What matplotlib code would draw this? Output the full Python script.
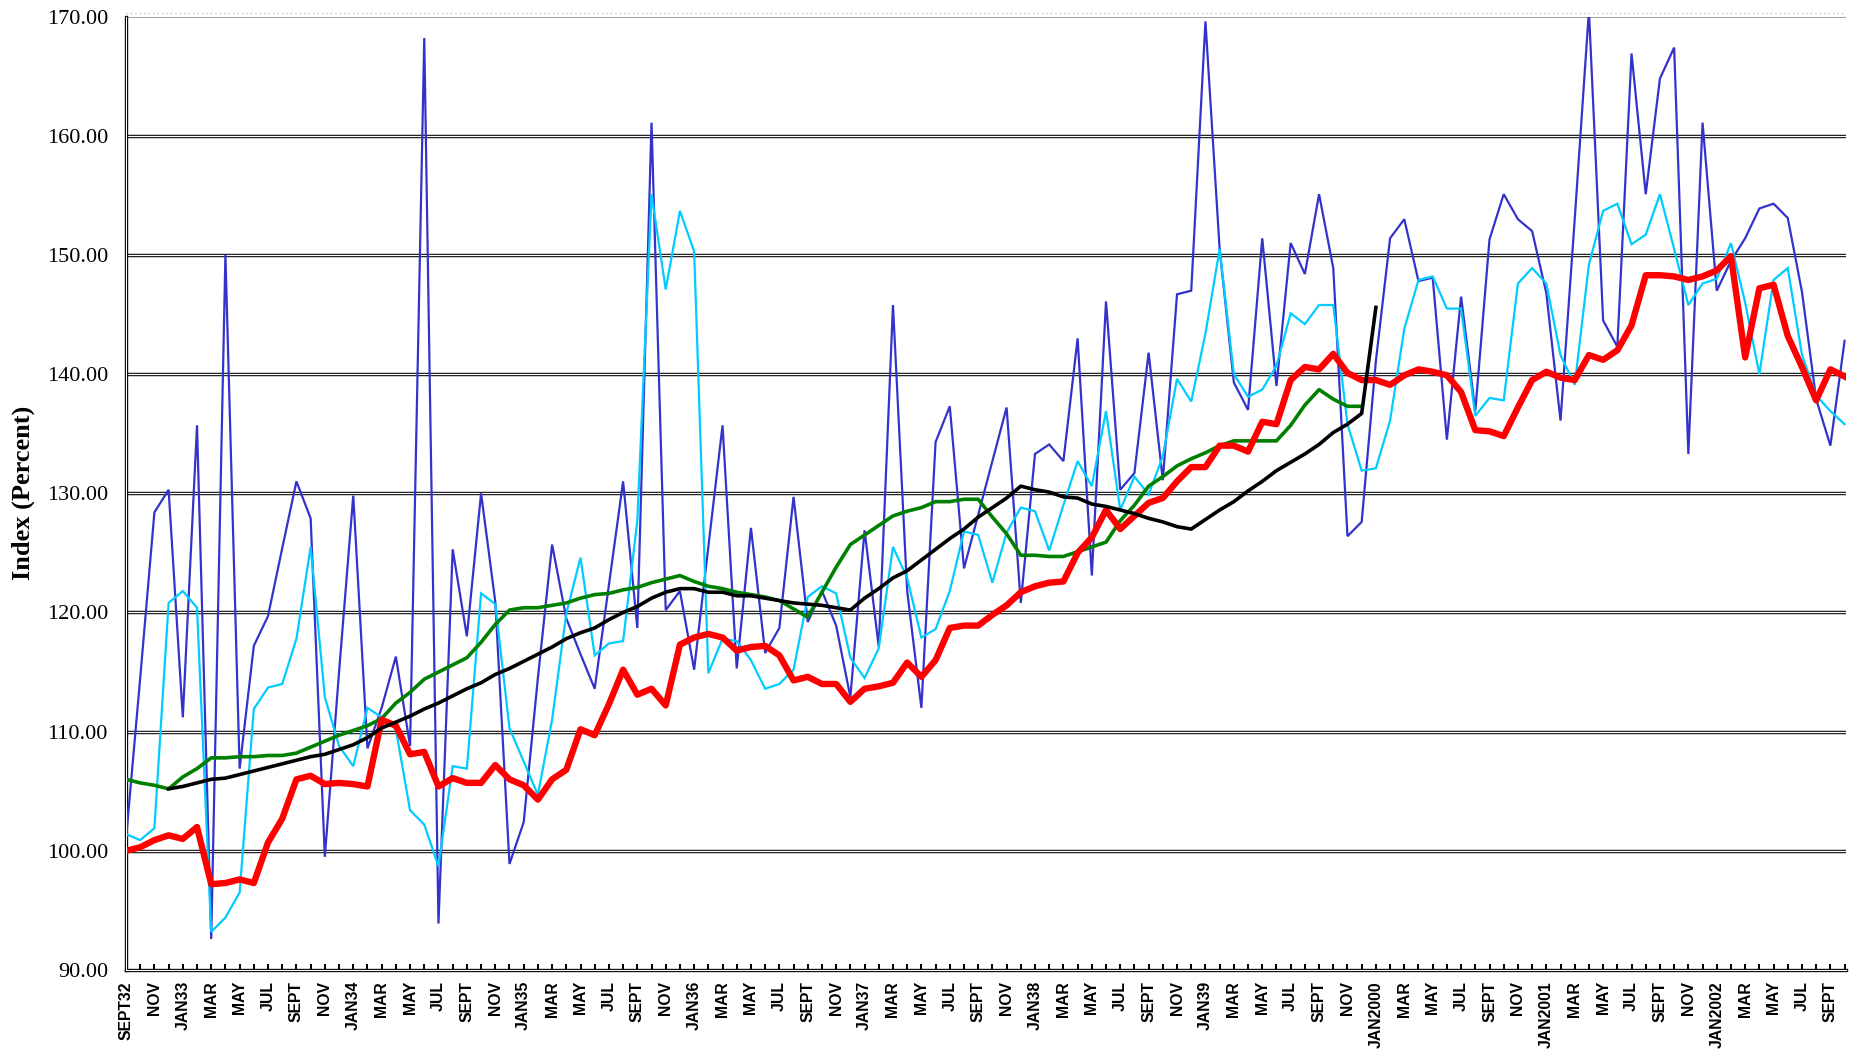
import numpy as np
import matplotlib
matplotlib.use("Agg")
import matplotlib.pyplot as plt

# ---------------- data (monthly, Sept 1932 .. Oct 1942) ----------------
tick_labels = ["SEPT32", "NOV", "JAN33", "MAR", "MAY", "JUL", "SEPT", "NOV",
               "JAN34", "MAR", "MAY", "JUL", "SEPT", "NOV",
               "JAN35", "MAR", "MAY", "JUL", "SEPT", "NOV",
               "JAN36", "MAR", "MAY", "JUL", "SEPT", "NOV",
               "JAN37", "MAR", "MAY", "JUL", "SEPT", "NOV",
               "JAN38", "MAR", "MAY", "JUL", "SEPT", "NOV",
               "JAN39", "MAR", "MAY", "JUL", "SEPT", "NOV",
               "JAN2000", "MAR", "MAY", "JUL", "SEPT", "NOV",
               "JAN2001", "MAR", "MAY", "JUL", "SEPT", "NOV",
               "JAN2002", "MAR", "MAY", "JUL", "SEPT"]

blue = [101.0, 114.5, 128.4, 130.3, 111.2, 135.7, 92.6, 150.0, 106.9, 117.2,
        119.7, 125.4, 131.0, 127.9, 99.5, 115.0, 129.8, 108.6, 112.0, 116.3,
        108.8, 168.2, 93.9, 125.3, 118.0, 130.0, 120.9, 98.9, 102.4, 114.5,
        125.7, 119.5, 116.5, 113.6, 122.3, 131.0, 118.7, 161.1, 120.2, 121.8,
        115.2, 125.5, 135.7, 115.3, 127.1, 116.6, 118.7, 129.7, 119.2, 121.8,
        118.9, 112.9, 126.9, 117.1, 145.8, 121.8, 112.0, 134.3, 137.3, 123.7,
        128.2, 132.7, 137.2, 120.8, 133.3, 134.1, 132.7, 143.0, 123.1, 146.1,
        130.3, 131.7, 141.8, 131.1, 146.7, 147.0, 169.6, 150.5, 139.3, 137.0,
        151.4, 139.0, 151.0, 148.4, 155.1, 148.9, 126.4, 127.6, 141.1, 151.4,
        153.0, 147.8, 148.1, 134.5, 146.5, 136.9, 151.3, 155.1, 153.0, 152.0,
        146.8, 136.1, 153.0, 170.5, 144.5, 142.3, 166.9, 155.1, 164.8, 167.4,
        133.3, 161.1, 147.0, 149.5, 151.4, 153.9, 154.3, 153.1, 146.9, 137.9,
        134.0, 142.8]

cyan = [101.4, 100.9, 101.9, 120.8, 121.8, 120.4, 93.2, 94.4, 96.5, 111.9,
        113.7, 114.0, 117.8, 125.5, 112.9, 108.8, 107.1, 112.0, 111.2, 110.2,
        103.4, 102.2, 98.7, 107.1, 106.9, 121.6, 120.7, 110.3, 107.5, 104.7,
        111.0, 119.9, 124.6, 116.4, 117.4, 117.6, 127.7, 155.1, 147.1, 153.7,
        150.3, 114.9, 117.8, 117.6, 116.0, 113.6, 114.0, 115.2, 121.3, 122.2,
        121.6, 116.2, 114.5, 117.0, 125.5, 122.9, 117.9, 118.6, 121.8, 126.8,
        126.5, 122.5, 126.7, 128.8, 128.5, 125.2, 129.0, 132.7, 130.6, 136.9,
        128.6, 131.4, 129.9, 133.1, 139.6, 137.7, 143.4, 150.5, 140.0, 138.1,
        138.7, 140.7, 145.1, 144.2, 145.8, 145.8, 135.8, 131.9, 132.1, 136.1,
        143.8, 147.9, 148.2, 145.5, 145.5, 136.5, 138.0, 137.8, 147.6, 148.9,
        147.6, 141.6, 139.1, 149.2, 153.7, 154.3, 150.9, 151.7, 155.1, 150.5,
        145.8, 147.6, 148.0, 151.0, 146.0, 140.0, 147.9, 148.9, 141.6, 138.2,
        136.9, 135.8]

red = [100.0, 100.3, 100.9, 101.3, 101.0, 102.0, 97.2, 97.3, 97.6, 97.3,
       100.7, 102.7, 106.0, 106.3, 105.6, 105.7, 105.6, 105.4, 111.0, 110.5,
       108.1, 108.3, 105.4, 106.1, 105.7, 105.7, 107.2, 106.0, 105.5, 104.3,
       106.0, 106.8, 110.2, 109.7, 112.3, 115.2, 113.1, 113.6, 112.2, 117.3,
       117.9, 118.2, 117.9, 116.8, 117.1, 117.2, 116.4, 114.3, 114.6, 114.0,
       114.0, 112.5, 113.6, 113.8, 114.1, 115.8, 114.6, 116.0, 118.7, 118.9,
       118.9, 119.8, 120.6, 121.7, 122.2, 122.5, 122.6, 125.0, 126.3, 128.6,
       127.0, 128.1, 129.2, 129.6, 131.0, 132.2, 132.2, 134.0, 134.0, 133.5,
       136.0, 135.8, 139.5, 140.6, 140.4, 141.7, 140.1, 139.5, 139.5, 139.1,
       139.9, 140.4, 140.2, 139.9, 138.5, 135.3, 135.2, 134.8, 137.2, 139.5,
       140.2, 139.7, 139.5, 141.6, 141.2, 142.0, 144.1, 148.3, 148.3, 148.2,
       147.9, 148.2, 148.7, 149.9, 141.4, 147.2, 147.5, 143.2, 140.6, 137.8,
       140.4, 139.8]

# green series: Sept 1932 .. Dec 1939
green = [106.0, 105.7, 105.5, 105.2, 106.2, 106.9, 107.8, 107.8, 107.9, 107.9,
         108.0, 108.0, 108.2, 108.7, 109.2, 109.7, 110.1, 110.5, 111.1, 112.4,
         113.3, 114.4, 115.0, 115.6, 116.2, 117.5, 119.0, 120.2, 120.4, 120.4,
         120.6, 120.8, 121.2, 121.5, 121.6, 121.9, 122.1, 122.5, 122.8, 123.1,
         122.6, 122.2, 122.0, 121.7, 121.5, 121.3, 121.0, 120.3, 119.6, 121.7,
         123.8, 125.7, 126.5, 127.3, 128.1, 128.5, 128.8, 129.3, 129.3, 129.5,
         129.5, 128.0, 126.6, 124.8, 124.8, 124.7, 124.7, 125.1, 125.5, 125.9,
         127.7, 129.0, 130.6, 131.4, 132.3, 132.9, 133.4, 134.0, 134.4, 134.4,
         134.4, 134.4, 135.7, 137.4, 138.7, 137.9, 137.3, 137.3]

# black series: Dec 1932 .. Jan 1940
black_start = 3
black = [105.2, 105.4, 105.7, 106.0, 106.1, 106.4, 106.7, 107.0, 107.3, 107.6,
         107.9, 108.1, 108.5, 108.9, 109.5, 110.3, 110.8, 111.3, 111.9, 112.4,
         113.0, 113.6, 114.1, 114.8, 115.3, 115.9, 116.5, 117.1, 117.8, 118.3,
         118.7, 119.4, 120.0, 120.5, 121.2, 121.7, 122.0, 122.0, 121.7, 121.7,
         121.4, 121.4, 121.2, 121.0, 120.8, 120.7, 120.6, 120.4, 120.2, 121.2,
         122.0, 122.9, 123.5, 124.4, 125.3, 126.2, 127.0, 128.0, 128.8, 129.6,
         130.6, 130.3, 130.1, 129.7, 129.6, 129.1, 128.9, 128.6, 128.3, 127.9,
         127.6, 127.2, 127.0, 127.8, 128.6, 129.3, 130.2, 131.0, 131.9, 132.6,
         133.3, 134.1, 135.1, 135.8, 136.7, 145.6]

# ---------------- figure ----------------
W, H = 1858, 1056
fig = plt.figure(figsize=(W / 100, H / 100), dpi=100)
ax = fig.add_axes([126 / W, 1 - 970 / H, (1846 - 126) / W, (970 - 16.6) / H])

x_all = np.arange(len(red))
x_green = np.arange(len(green))
x_black = np.arange(black_start, black_start + len(black))

ax.plot(x_all, blue, color="#3333cc", lw=1.6, zorder=3, solid_joinstyle="miter")
ax.plot(x_all, cyan, color="#00ccff", lw=1.6, zorder=3.1, solid_joinstyle="miter")
ax.plot(x_green, green, color="#008000", lw=2.6, zorder=3.2)
ax.plot(x_all, red, color="#ff0000", lw=4.6, zorder=3.3, solid_joinstyle="round")
ax.plot(x_black, black, color="#000000", lw=2.6, zorder=3.4)

ax.set_xlim(0, 121.1)
ax.set_ylim(90, 170)

# double gridlines (Excel style)
for yv in range(100, 170, 10):
    ax.axhline(yv, color="#1a1a1a", lw=2.5, zorder=1)
    ax.axhline(yv, color="white", lw=0.8, zorder=1.1)
ax.axhline(170, color="#9a9a9a", lw=1.3, zorder=1)
ax.plot([0, 1], [1.004, 1.004], transform=ax.transAxes, color="#aaaaaa",
        lw=0.8, ls=(0, (1, 3)), clip_on=False)

for s in ["top", "right"]:
    ax.spines[s].set_visible(False)
for s in ["left", "bottom"]:
    ax.spines[s].set_linewidth(2.4)
    ax.spines[s].set_color("black")
# white center for double axis lines
ax.plot([0, 0], [0, 1], transform=ax.transAxes, color="white", lw=0.8,
        clip_on=False, zorder=5)
ax.plot([0, 1], [0, 0], transform=ax.transAxes, color="white", lw=0.8,
        clip_on=False, zorder=5)

# y axis
yt = np.arange(90, 171, 10)
ax.set_yticks(yt)
ax.set_yticklabels([f"{v:.2f}" for v in yt], family="Liberation Serif",
                   fontsize=16)
ax.tick_params(axis="y", length=0, pad=13)
ax.set_ylabel("Index (Percent)", family="Liberation Serif", fontweight="bold",
              fontsize=19)
ax.yaxis.set_label_coords(-0.053, 0.5)

# x axis
ax.set_xticks(np.arange(0, 2 * len(tick_labels), 2))
ax.set_xticklabels(tick_labels, rotation=90, family="Liberation Sans",
                   fontweight="bold", fontsize=11.3)
ax.set_xticks(np.arange(0, 122, 1), minor=True)
ax.tick_params(axis="x", which="both", direction="in", length=4, width=1.4,
               pad=8)

fig.savefig("out.png", dpi=100)
